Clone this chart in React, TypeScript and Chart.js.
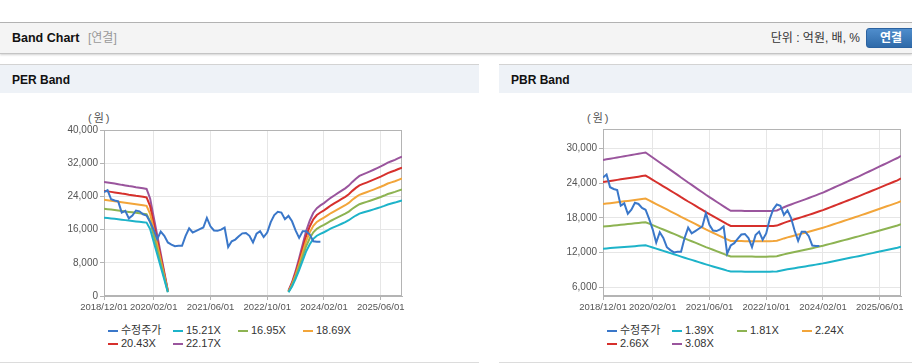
import React, { useEffect, useRef } from 'react';
import { Chart, registerables } from 'chart.js';

Chart.register(...registerables);

// ---- data ----
const xTickMonths = [0, 14, 30, 46, 62, 78];
const xTickLabels = ['2018/12/01', '2020/02/01', '2021/06/01', '2022/10/01', '2024/02/01', '2025/06/01'];
const xMaxMonth = 84;

const priceLabel = '수정주가';
// monthly adjusted price from 2018/12
const price = [
  25000, 25500, 23300, 23000, 22800, 20100, 20500, 18700, 19400, 20600, 20400, 19700,
  19400, 17800, 16000, 13700, 15500, 14500, 12900, 12400, 12000, 12100, 12100, 14500,
  16300, 15300, 15700, 16100, 16500, 18800, 16800, 15800, 15700, 16000, 16500, 11800,
  13200, 13600, 14400, 15100, 15200, 14500, 12900, 15000, 15600, 14200, 15300, 17800,
  19500, 20300, 20100, 18500, 19300, 18000, 15800, 14000, 15600, 15600, 14800, 13200,
  13100, 13100,
];

const perLabels = ['15.21X', '16.95X', '18.69X', '20.43X', '22.17X'];
const perMultiples = [15.21, 16.95, 18.69, 20.43, 22.17];
// EPS (monthly, 2018/12 .. 2025/12)
const perEps = [
  1240, 1234, 1228, 1222, 1215, 1208, 1202, 1195, 1189, 1182, 1176, 1170, 1163,
  1060, 860, 660, 460, 260, 58,
  null, null, null, null, null, null, null, null, null, null, null,
  null, null, null, null, null, null, null, null, null, null, null,
  null, null, null, null, null, null, null, null, null, null, null,
  58, 150, 270, 410, 560, 710, 820, 905,
  955, 985, 1010, 1040, 1070, 1095, 1120, 1145, 1170, 1200, 1240, 1275, 1305,
  1322, 1338, 1355, 1372, 1390, 1408, 1428, 1450, 1465, 1480, 1498, 1515,
];
const perYTicks = [0, 8000, 16000, 24000, 32000, 40000];

const pbrLabels = ['1.39X', '1.81X', '2.24X', '2.66X', '3.08X'];
const pbrMultiples = [1.39, 1.81, 2.24, 2.66, 3.08];
// BPS (monthly, 2018/12 .. 2025/12)
const pbrBps = [
  9100, 9135, 9170, 9205, 9240, 9275, 9310, 9345, 9380, 9415, 9450, 9485, 9520,
  9380, 9240, 9100, 8960, 8820, 8680, 8540, 8400, 8260, 8110, 7970, 7830, 7700,
  7560, 7420, 7280, 7140, 7010, 6880, 6750, 6620, 6490, 6360, 6240,
  6240, 6235, 6235, 6230, 6230, 6230, 6225, 6225, 6225, 6225, 6230, 6235,
  6260, 6350, 6440, 6520, 6595, 6670, 6740, 6810, 6885, 6960, 7035, 7110,
  7190, 7265, 7355, 7445, 7535, 7625, 7715, 7805, 7895, 7985, 8075, 8165,
  8260, 8355, 8450, 8545, 8640, 8735, 8830, 8925, 9020, 9115, 9210, 9330,
];
const pbrYTicks = [6000, 12000, 18000, 24000, 30000];

const priceColor = '#3a77c9';
const bandColors = ['#1db3c9', '#8db352', '#f2a53a', '#d6302c', '#9a559d'];

const FONT = '"Liberation Sans", Arial, "Noto Sans CJK KR", sans-serif';
Chart.defaults.font.family = FONT;

const framePlugin = {
  id: 'frame',
  beforeDatasetsDraw(chart: any) {
    const { ctx, chartArea } = chart;
    const l = Math.round(chartArea.left) + 0.5;
    const t = Math.round(chartArea.top) + 0.5;
    const r = Math.round(chartArea.right) - 0.5;
    const b = Math.round(chartArea.bottom) - 0.5;
    ctx.save();
    ctx.strokeStyle = '#b4b4b4';
    ctx.lineWidth = 1;
    ctx.strokeRect(l, t, r - l, b - t);
    ctx.restore();
  },
};

type BandProps = {
  width: number;
  height: number;
  padTop: number;
  padRight: number;
  yMin: number;
  yMax: number;
  yTicks: number[];
  base: (number | null)[];
  multiples: number[];
  labels: string[];
};

function BandCanvas(p: BandProps) {
  const ref = useRef<HTMLCanvasElement>(null);
  useEffect(() => {
    if (!ref.current) return;
    const datasets: any[] = [
      {
        label: priceLabel,
        data: price.map((v, i) => ({ x: i, y: v })),
        borderColor: priceColor,
        backgroundColor: priceColor,
        borderWidth: 2,
        pointRadius: 0,
        tension: 0,
      },
      ...p.labels.map((lab, k) => ({
        label: lab,
        data: p.base.map((b, i) => ({ x: i, y: b == null ? null : Math.round(b * p.multiples[k]) })),
        borderColor: bandColors[k],
        backgroundColor: bandColors[k],
        borderWidth: 2,
        pointRadius: 0,
        tension: 0,
        spanGaps: false,
      })),
    ];
    const chart = new Chart(ref.current, {
      type: 'line',
      data: { datasets },
      plugins: [framePlugin],
      options: {
        animation: false,
        responsive: false,
        maintainAspectRatio: false,
        layout: { padding: { top: p.padTop, right: p.padRight, left: 0, bottom: 0 } },
        plugins: { legend: { display: false }, tooltip: { enabled: false } },
        scales: {
          x: {
            type: 'linear',
            min: 0,
            max: xMaxMonth,
            afterBuildTicks: (s: any) => {
              s.ticks = xTickMonths.map((v) => ({ value: v }));
            },
            afterFit: (s: any) => {
              s.height = 25;
            },
            ticks: {
              autoSkip: false,
              maxRotation: 0,
              minRotation: 0,
              padding: 2,
              color: '#555',
              font: { size: 9.5, family: FONT },
              callback: (v: any) => {
                const i = xTickMonths.indexOf(Number(v));
                return i >= 0 ? xTickLabels[i] : '';
              },
            },
            grid: { color: '#e6e6e6', tickLength: 4, tickColor: '#b4b4b4' },
            border: { color: '#b4b4b4' },
          },
          y: {
            min: p.yMin,
            max: p.yMax,
            afterBuildTicks: (s: any) => {
              s.ticks = p.yTicks.map((v) => ({ value: v }));
            },
            afterFit: (s: any) => {
              s.width = 104;
            },
            ticks: {
              padding: 2,
              color: '#555',
              font: { size: 10, family: FONT },
              callback: (v: any) => Number(v).toLocaleString('en-US'),
            },
            grid: { color: '#e6e6e6', tickLength: 4, tickColor: '#b4b4b4' },
            border: { color: '#b4b4b4' },
          },
        },
      },
    } as any);
    return () => chart.destroy();
  }, []);
  return (
    <canvas
      ref={ref}
      width={p.width}
      height={p.height}
      style={{ position: 'absolute', left: 0, top: 31, width: p.width, height: p.height }}
    />
  );
}

function Legend({ labels, left }: { labels: string[]; left: number }) {
  const items = [{ label: priceLabel, color: priceColor }, ...labels.map((l, k) => ({ label: l, color: bandColors[k] }))];
  return (
    <>
      {items.map((it, i) => {
        const col = i % 4;
        const row = Math.floor(i / 4);
        return (
          <div
            key={i}
            style={{
              position: 'absolute',
              left: left + col * 65,
              top: 259 + row * 13,
              height: 13,
              display: 'flex',
              alignItems: 'center',
              fontSize: 11,
              color: '#333',
              whiteSpace: 'nowrap',
              lineHeight: '13px',
            }}
          >
            <span style={{ display: 'inline-block', width: 10, height: 2, background: it.color, marginRight: 3 }} />
            <span>{it.label}</span>
          </div>
        );
      })}
    </>
  );
}

function Panel(props: {
  left: number;
  width: number;
  title: string;
  canvasWidth: number;
  padRight: number;
  padTop: number;
  yMin: number;
  yMax: number;
  yTicks: number[];
  base: (number | null)[];
  multiples: number[];
  labels: string[];
}) {
  return (
    <div
      style={{
        position: 'absolute',
        left: props.left,
        top: 64,
        width: props.width,
        height: 299,
        borderTop: '1px solid #d3d3d3',
        borderBottom: '1px solid #dcdcdc',
        boxSizing: 'border-box',
        background: '#fff',
      }}
    >
      <div
        style={{
          position: 'absolute',
          left: 0,
          top: 0,
          width: '100%',
          height: 28,
          background: '#eef2f7',
        }}
      />
      <div
        style={{
          position: 'absolute',
          left: 12,
          top: 8,
          fontSize: 12,
          fontWeight: 'bold',
          color: '#111',
          lineHeight: '14px',
        }}
      >
        {props.title}
      </div>
      <div
        style={{
          position: 'absolute',
          left: 88,
          top: 46,
          fontSize: 11,
          color: '#555',
          lineHeight: '14px',
          letterSpacing: 2,
        }}
      >
        (원)
      </div>
      <BandCanvas
        width={props.canvasWidth}
        height={225}
        padTop={props.padTop}
        padRight={props.padRight}
        yMin={props.yMin}
        yMax={props.yMax}
        yTicks={props.yTicks}
        base={props.base}
        multiples={props.multiples}
        labels={props.labels}
      />
      <Legend labels={props.labels} left={108} />
    </div>
  );
}

export default function App() {
  return (
    <div
      style={{
        position: 'relative',
        width: 912,
        height: 364,
        overflow: 'hidden',
        background: '#fff',
        fontFamily: '"Liberation Sans", Arial, "Noto Sans CJK KR", sans-serif',
      }}
    >
      <style>{`html,body{margin:0;padding:0;overflow:hidden;}`}</style>
      {/* header bar */}
      <div style={{ position: 'absolute', left: 0, top: 22, width: 912, height: 1, background: '#b5b5b5' }} />
      <div
        style={{
          position: 'absolute',
          left: 0,
          top: 23,
          width: 912,
          height: 30,
          background: '#f4f4f4',
          borderBottom: '1px solid #c4c4c4',
          boxShadow: '0 1px 2px rgba(0,0,0,0.18)',
        }}
      />
      <div
        style={{
          position: 'absolute',
          left: 12,
          top: 31,
          fontSize: 12.5,
          fontWeight: 'bold',
          color: '#111',
          lineHeight: '15px',
        }}
      >
        Band Chart
      </div>
      <div style={{ position: 'absolute', left: 88, top: 31, fontSize: 12, color: '#999', lineHeight: '15px' }}>[연결]</div>
      <div
        style={{
          position: 'absolute',
          right: 52,
          top: 31,
          fontSize: 12,
          color: '#333',
          lineHeight: '15px',
          whiteSpace: 'nowrap',
        }}
      >
        단위 : 억원, 배, %
      </div>
      <div
        style={{
          position: 'absolute',
          left: 866,
          top: 28,
          width: 54,
          height: 20,
          borderRadius: 3,
          background: 'linear-gradient(#4f8dcc, #2f6aa9)',
          border: '1px solid #2b62a0',
          boxSizing: 'border-box',
          color: '#fff',
          fontSize: 12,
          fontWeight: 'bold',
          lineHeight: '18px',
          textAlign: 'center',
          paddingRight: 4,
        }}
      >
        연결
      </div>

      <Panel
        left={0}
        width={479}
        title="PER Band"
        canvasWidth={479}
        padRight={77}
        padTop={34}
        yMin={0}
        yMax={40000}
        yTicks={perYTicks}
        base={perEps}
        multiples={perMultiples}
        labels={perLabels}
      />
      <Panel
        left={499}
        width={413}
        title="PBR Band"
        canvasWidth={413}
        padRight={11}
        padTop={33}
        yMin={4440}
        yMax={33400}
        yTicks={pbrYTicks}
        base={pbrBps}
        multiples={pbrMultiples}
        labels={pbrLabels}
      />
    </div>
  );
}
